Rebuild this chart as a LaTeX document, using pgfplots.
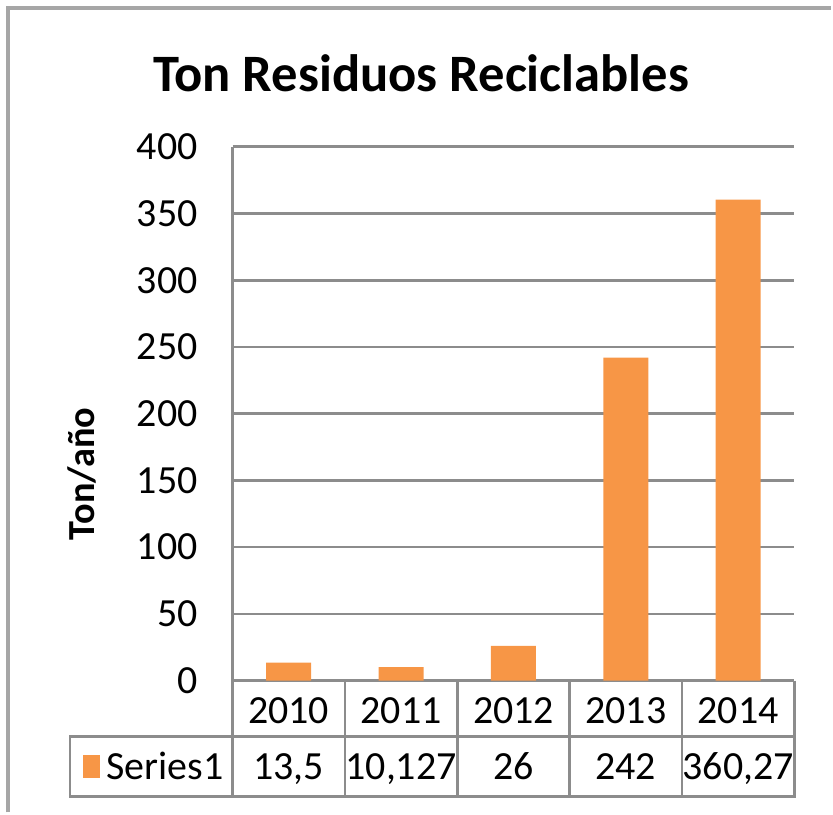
\documentclass[border=0pt]{standalone}
\usepackage{fontspec}
\setmainfont{Carlito}
\usepackage{pgfplots}
\pgfplotsset{compat=1.18}
\definecolor{barorange}{HTML}{F79646}
\definecolor{gridgray}{HTML}{8C8C8C}
\definecolor{framegray}{HTML}{A6A6A6}
\begin{document}
\begin{tikzpicture}[x=0.3pt,y=0.3pt]
\path (0,0) rectangle (833,814);
\draw[framegray, line width=1pt] (8,0) -- (8,806) -- (833,806);
\begin{axis}[
  at={(69.9pt,39.6pt)}, anchor=south west,
  width=168.9pt, height=160.5pt, scale only axis,
  xmin=-0.5, xmax=4.5, ymin=0, ymax=400,
  enlargelimits=false,
  ytick={0,50,...,400},
  xtick={0,1,2,3,4}, xticklabels={2010,2011,2012,2013,2014},
  axis y line*=left, axis x line*=bottom,
  major tick length=0pt,
  tick style={draw=none},
  ymajorgrids, grid style={gridgray, line width=0.8pt},
  axis line style={gridgray, line width=0.8pt, -},
  ybar, bar width=0.4,
  ticklabel style={font=\fontsize{12}{14}\selectfont},
  /pgf/number format/assume math mode=true,
  yticklabel style={anchor=east, xshift=-7pt},
  xticklabel style={anchor=center, yshift=-9pt, text height=7.6pt, text depth=0pt},
  clip=false,
]
\addplot[fill=barorange, draw=none] coordinates {(0,13.5) (1,10.127) (2,26) (3,242) (4,360.27)};
\end{axis}
% data table below the plot
\draw[gridgray, line width=0.8pt] (796,132) -- (796,16) -- (70,16) -- (70,76) -- (796,76);
\foreach \x in {233,345.6,458.2,570.8,683.4} \draw[gridgray, line width=0.8pt] (\x,132) -- (\x,16);
\fill[barorange] (83,34) rectangle (100,57);
\node[anchor=base west, font=\fontsize{12}{14}\selectfont, inner sep=0pt] at (106,33) {Series1};
\foreach \x/\v in {289.3/{13,5},401.9/{10,127},514.5/{26},627.1/{242},739.7/{360,27}}
  \node[anchor=base, font=\fontsize{12}{14}\selectfont, inner sep=0pt] at (\x,33) {\v};
\node[font=\bfseries\fontsize{15.8}{18}\selectfont] at (422,741) {Ton Residuos Reciclables};
\node[font=\bfseries\fontsize{11.5}{13}\selectfont, rotate=90] at (82,339) {Ton/año};
\end{tikzpicture}
\end{document}
